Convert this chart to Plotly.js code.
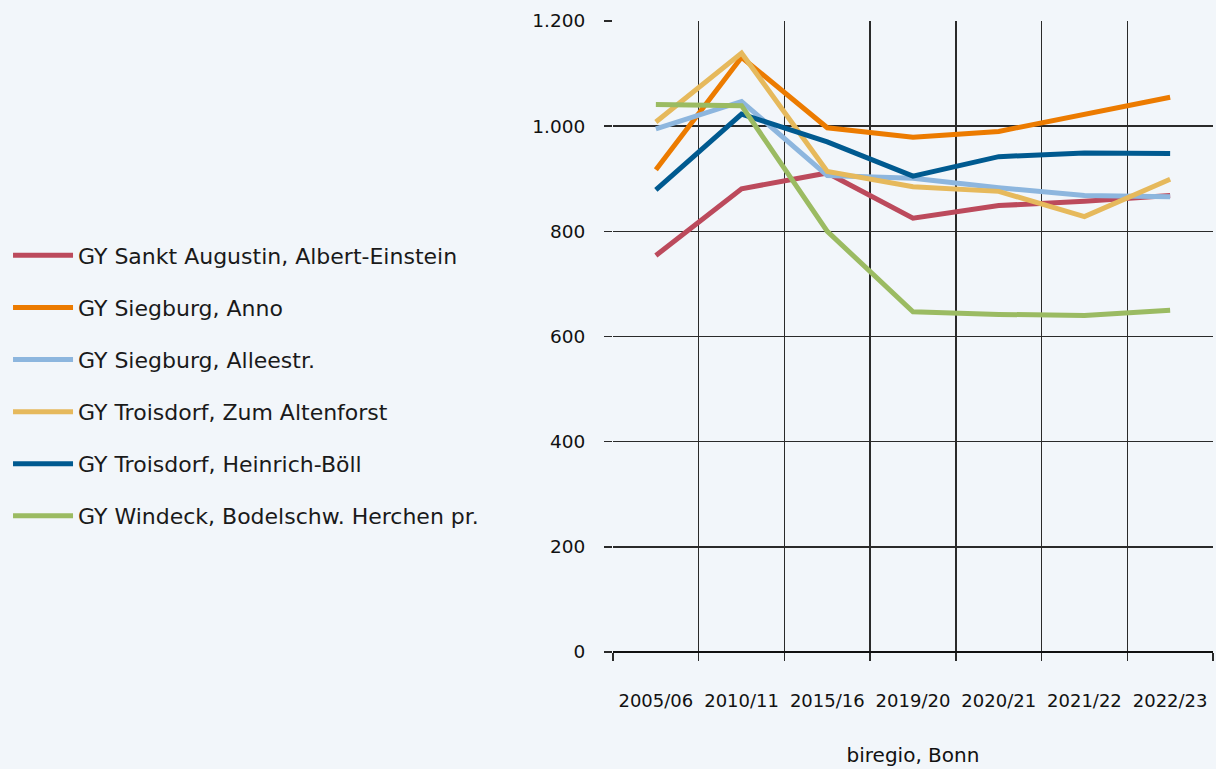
<!DOCTYPE html>
<html>
<head>
<meta charset="utf-8">
<script src="https://cdn.plot.ly/plotly-3.0.1.min.js"></script>
<style>html,body{margin:0;padding:0;background:#F2F6FA;}#chart{width:1216px;height:769px;}</style>
</head>
<body>
<div id="chart"></div>
<script>
const categories = ["2005/06", "2010/11", "2015/16", "2019/20", "2020/21", "2021/22", "2022/23"];
const seriesNames = [
  "GY Sankt Augustin, Albert-Einstein",
  "GY Siegburg, Anno",
  "GY Siegburg, Alleestr.",
  "GY Troisdorf, Zum Altenforst",
  "GY Troisdorf, Heinrich-Böll",
  "GY Windeck, Bodelschw. Herchen pr."
];
const sanktAugustin = [754, 881, 911, 825, 849, 857, 868];
const siegburgAnno = [917, 1131, 997, 979, 990, 1023, 1055];
const siegburgAlleestr = [995, 1047, 906, 901, 883, 868, 866];
const troisdorfAltenforst = [1008, 1139, 914, 885, 876, 828, 899];
const troisdorfBoell = [879, 1023, 970, 905, 942, 949, 948];
const windeck = [1041, 1039, 800, 647, 642, 640, 650];
const yTickVals = [0, 200, 400, 600, 800, 1000, 1200];
const yTickText = ["0", "200", "400", "600", "800", "1.000", "1.200"];
const axisTitle = "biregio, Bonn";

const colors = ["#BC4A5C", "#EC7B00", "#8DB6DE", "#E6B95C", "#005A90", "#9BBB62"];
const values = [sanktAugustin, siegburgAnno, siegburgAlleestr, troisdorfAltenforst, troisdorfBoell, windeck];
const FONT = "DejaVu Sans, sans-serif";

const traces = values.map((v, i) => ({
  type: "scatter",
  mode: "lines",
  x: categories,
  y: v,
  name: seriesNames[i],
  legendgroup: "g" + i,
  line: {color: colors[i], width: 5}
}));

const layout = {
  width: 1216,
  height: 769,
  paper_bgcolor: "#F2F6FA",
  plot_bgcolor: "#F2F6FA",
  margin: {l: 613, r: 3, t: 21, b: 117},
  font: {family: FONT, color: "#111"},
  showlegend: true,
  legend: {
    xref: "container", yref: "container",
    x: 0.0066, y: 0.695, xanchor: "left", yanchor: "top",
    traceorder: "grouped",
    tracegroupgap: 20.5,
    itemwidth: 60,
    font: {size: 22, family: FONT, color: "#1a1a1a"},
    bgcolor: "rgba(0,0,0,0)"
  },
  xaxis: {
    type: "category",
    range: [-0.5, 6.5],
    tickson: "boundaries",
    showgrid: true,
    gridcolor: "#2a2a2a",
    gridwidth: 1.5,
    ticks: "outside",
    ticklen: 8,
    tickwidth: 1.5,
    tickcolor: "#2a2a2a",
    ticklabelstandoff: 36,
    tickfont: {size: 18, family: FONT, color: "#111"},
    showline: false,
    zeroline: false,
    title: {text: axisTitle, font: {size: 20, family: FONT, color: "#111"}, standoff: 37}
  },
  yaxis: {
    range: [0, 1200],
    tickvals: yTickVals,
    ticktext: yTickText,
    showgrid: true,
    gridcolor: "#2a2a2a",
    gridwidth: 1.5,
    ticks: "outside",
    ticklen: 8,
    tickwidth: 1.5,
    tickcolor: "#2a2a2a",
    ticklabelstandoff: 15,
    tickfont: {size: 18.5, family: FONT, color: "#111"},
    zeroline: true,
    zerolinecolor: "#111",
    zerolinewidth: 2,
    showline: false
  }
};

Plotly.newPlot("chart", traces, layout, {displayModeBar: false, staticPlot: true});
</script>
</body>
</html>
